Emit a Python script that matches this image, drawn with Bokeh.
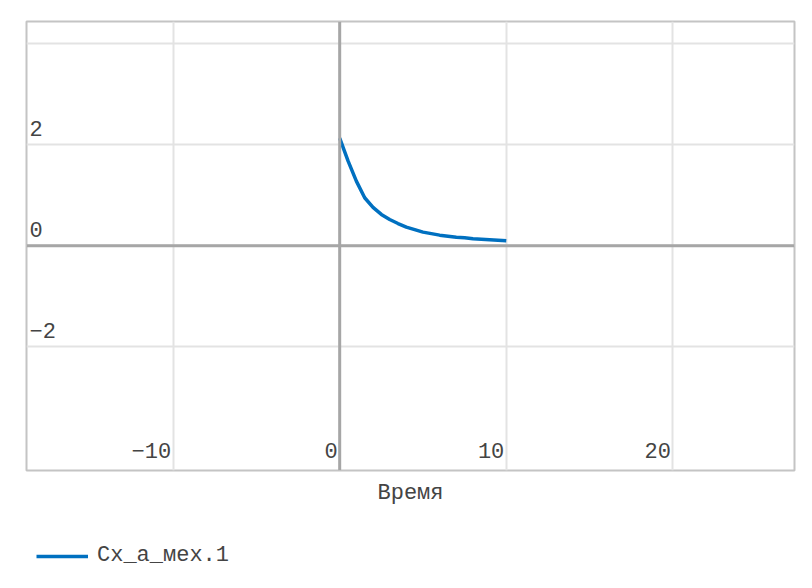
from bokeh.plotting import figure
from bokeh.layouts import column
from bokeh.models import Range1d, Span, FixedTicker, Legend, LegendItem
from bokeh.embed import file_html
from bokeh.resources import INLINE
from bokeh.core.properties import value

# ---- data ----
t = [0.0, 0.5, 1.0, 1.5, 2.0, 2.5, 3.0, 3.5, 4.0, 4.5, 5.0,
     5.5, 6.0, 6.5, 7.0, 7.5, 8.0, 8.5, 9.0, 9.5, 10.0]
cx_a_mex = [2.13, 1.68, 1.28, 0.95, 0.76, 0.62, 0.52, 0.44, 0.37, 0.32, 0.27,
            0.24, 0.21, 0.19, 0.17, 0.16, 0.14, 0.13, 0.12, 0.11, 0.10]
series_name = "Cx_a_мех.1"
x_title = "Время"

x_ticks = [-10, 0, 10, 20]
x_tick_labels = ["−10", "0", "10", "20"]
y_grid_ticks = [-2, 0, 2, 4]
y_label_ticks = [-2, 0, 2]
y_tick_labels = ["−2", "0", "2"]

X_MIN, X_MAX = -18.8, 27.3
Y_MIN, Y_MAX = -4.45, 4.44

FONT = "Liberation Mono"
FSIZE = "22px"
TCOLOR = "#444444"
LINE_COLOR = "#0070c0"

p = figure(frame_width=768, frame_height=449,
           x_range=Range1d(X_MIN, X_MAX), y_range=Range1d(Y_MIN, Y_MAX),
           output_backend="svg", toolbar_location=None,
           min_border_left=26, min_border_top=21, min_border_right=2,
           min_border_bottom=45)

p.outline_line_color = "#c4c4c4"
p.outline_line_width = 2
p.background_fill_color = "white"
p.border_fill_color = "white"

p.xgrid.ticker = FixedTicker(ticks=x_ticks)
p.ygrid.ticker = FixedTicker(ticks=y_grid_ticks)
p.grid.grid_line_color = "#e3e3e3"
p.grid.grid_line_width = 2

p.yaxis.visible = False
ax = p.xaxis[0]
ax.ticker = FixedTicker(ticks=x_ticks)
ax.axis_label = x_title
ax.axis_label_text_font = FONT
ax.axis_label_text_font_size = FSIZE
ax.axis_label_text_font_style = "normal"
ax.axis_label_text_color = TCOLOR
ax.axis_label_standoff = 10
ax.major_label_text_color = None
ax.major_label_text_font_size = "1px"
ax.major_label_standoff = 0
ax.major_tick_line_color = None
ax.minor_tick_line_color = None
ax.axis_line_color = None
ax.major_tick_out = 0
ax.major_tick_in = 0

p.add_layout(Span(location=0, dimension="height", line_color="#a6a6a6", line_width=3))
p.add_layout(Span(location=0, dimension="width", line_color="#a6a6a6", line_width=3))

r = p.line(t, cx_a_mex, line_color=LINE_COLOR, line_width=3.5)

# tick labels drawn inside the frame
p.text(x=x_ticks, y=[Y_MIN] * len(x_ticks), text=x_tick_labels,
       text_font=value(FONT), text_font_size=FSIZE, text_color=TCOLOR,
       text_align="right", text_baseline="alphabetic", x_offset=-2, y_offset=-20)
p.text(x=[X_MIN] * len(y_label_ticks), y=y_label_ticks, text=y_tick_labels,
       text_font=value(FONT), text_font_size=FSIZE, text_color=TCOLOR,
       text_align="left", text_baseline="alphabetic", x_offset=3, y_offset=-16)

# legend strip below the chart
lf = figure(width=796, height=57, x_range=p.x_range, y_range=p.y_range,
            output_backend="svg", toolbar_location=None,
            min_border_left=26, min_border_right=2, min_border_top=18,
            min_border_bottom=0)
lf.axis.visible = False
lf.grid.visible = False
lf.outline_line_color = None
lr = lf.line(t, cx_a_mex, line_color=LINE_COLOR, line_width=3.5, visible=False)

legend = Legend(items=[LegendItem(label=series_name, renderers=[lr])],
                location="top_left", orientation="horizontal",
                margin=10, padding=0, glyph_width=52, glyph_height=24,
                label_height=24, label_standoff=9, border_line_color=None,
                background_fill_alpha=0,
                label_text_font=FONT, label_text_font_size=FSIZE,
                label_text_color=TCOLOR)
lf.add_layout(legend, "center")

layout = column(p, lf, spacing=0)
open("out.html", "w").write(file_html(layout, INLINE))
